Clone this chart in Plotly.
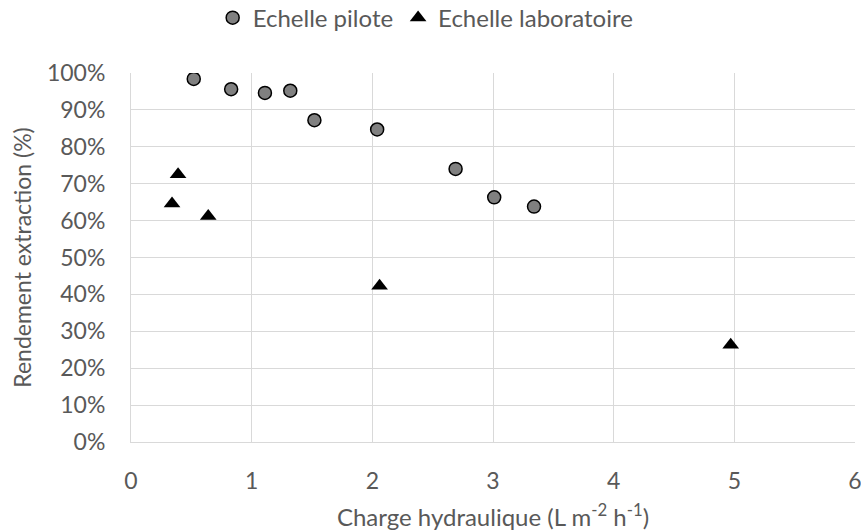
import plotly.graph_objects as go

# Echelle pilote (circles)
pilote_x = [0.52, 0.83, 1.11, 1.32, 1.52, 2.04, 2.69, 3.01, 3.34]
pilote_y = [98.4, 95.6, 94.6, 95.2, 87.2, 84.7, 74.0, 66.3, 63.8]

# Echelle laboratoire (triangles)
labo_x = [0.34, 0.39, 0.64, 2.06, 4.97]
labo_y = [64.6, 72.5, 61.2, 42.3, 26.3]

x_ticks = [0, 1, 2, 3, 4, 5, 6]
y_ticks = [0, 10, 20, 30, 40, 50, 60, 70, 80, 90, 100]
y_ticktext = [f"{v}%" for v in y_ticks]

font_fam = "Lato, Open Sans, sans-serif"
txt = "#595959"
grid = "#D9D9D9"
fs = 23

fig = go.Figure()
fig.add_trace(go.Scatter(
    x=pilote_x, y=pilote_y, mode="markers", name="Echelle pilote",
    marker=dict(symbol="circle", size=13, color="#808080",
                line=dict(color="black", width=1.5)),
))
fig.add_trace(go.Scatter(
    x=labo_x, y=labo_y, mode="markers", name="Echelle laboratoire",
    marker=dict(symbol="triangle-up", size=14.5, color="black",
                line=dict(width=0)),
))

fig.update_layout(
    width=861, height=532,
    paper_bgcolor="white", plot_bgcolor="white",
    margin=dict(l=131, r=6, t=73, b=90, autoexpand=False),
    font=dict(family=font_fam, size=fs, color=txt),
    legend=dict(orientation="h", x=0.247, xanchor="left", xref="container",
                y=0.966, yanchor="middle", yref="container",
                font=dict(size=24, color=txt), itemwidth=30, tracegroupgap=0,
                bgcolor="rgba(0,0,0,0)"),
    xaxis=dict(range=[0, 6], tickvals=x_ticks, showgrid=True, gridcolor=grid, gridwidth=1,
               showline=True, linecolor=grid, linewidth=1, zeroline=False,
               ticks="", tickfont=dict(size=fs, color=txt), automargin=False,
               ticklabeloverflow="allow", ticklabelstandoff=18,
               title=dict(text="Charge hydraulique (L m<sup>-2</sup> h<sup>-1</sup>)",
                          font=dict(size=24, color=txt), standoff=16)),
    yaxis=dict(range=[0, 100], tickvals=y_ticks, ticktext=y_ticktext, showgrid=True,
               gridcolor=grid, gridwidth=1, showline=True, linecolor=grid, linewidth=1,
               zeroline=False, ticks="", tickfont=dict(size=fs, color=txt), automargin=False,
               ticklabeloverflow="allow", ticklabelstandoff=20,
               title=dict(text="Rendement extraction (%)", font=dict(size=fs, color=txt),
                          standoff=8)),
)

# remove the default 8px page margin so the figure fills the window exactly
fig.write_html("out.html", config={"displayModeBar": False},
               post_script="document.body.style.margin='0';")
